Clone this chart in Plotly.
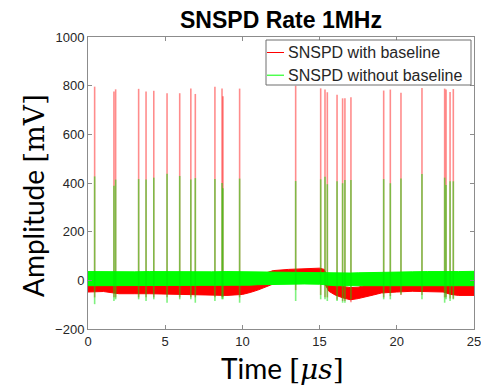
import plotly.graph_objects as go

# ---------------- data ----------------
pulse_t = [0.43, 1.68, 1.79, 3.28, 3.76, 4.26, 5.12, 5.94, 6.66, 6.95, 8.22, 8.68, 8.74, 9.82,
           13.45, 15.07, 15.35, 15.50, 16.13, 16.49, 16.64, 17.03, 19.15, 19.58, 20.27, 21.63,
           23.10, 23.19, 23.45, 23.66]
red_peak = [796, 776, 785, 787, 776, 779, 769, 769, 788, 766, 796, 788, 757, 788,
            800, 789, 784, 773, 763, 748, 748, 752, 780, 784, 771, 790, 788, 784, 774, 786]
red_dip = [-70, -70, -70, -70, -70, -70, -70, -70, -70, -70, -70, -70, -70, -70,
           -40, -60, -70, -70, -80, -85, -85, -90, -70, -65, -60, -60, -70, -70, -75, -75]
green_peak = [427, 389, 414, 416, 414, 422, 438, 429, 414, 420, 416, 400, 378, 418,
              408, 415, 426, 395, 407, 399, 412, 412, 416, 399, 419, 437, 422, 392, 407, 407]
green_dip = [-98, -85, -78, -78, -85, -78, -92, -78, -78, -92, -85, -78, -78, -92,
             -85, -78, -78, -85, -85, -92, -92, -78, -78, -78, -58, -78, -92, -78, -85, -78]

env_t = [0, 1, 2, 3, 4, 5, 6, 7, 8, 9, 10, 10.5, 11, 11.5, 12, 13, 14, 15, 15.3, 15.6,
         16, 16.5, 17, 17.5, 18, 18.5, 19, 20, 21, 22, 23, 23.5, 24, 25]
red_low = [-48, -46, -55, -55, -55, -57, -58, -60, -60, -62, -58, -50, -40, -28, -15, -8, -5, -5, -10, -45,
           -60, -72, -80, -75, -68, -60, -52, -48, -45, -45, -48, -58, -62, -62]
red_up = [-5, -5, -10, -10, -10, -12, -12, -15, -15, -15, -12, -5, 10, 30, 40, 45, 48, 50, 45, 0,
          -15, -25, -30, -28, -20, -12, -8, -5, -5, -5, -5, -12, -15, -15]
green_up = [36, 35, 36, 35, 36, 35, 35, 36, 35, 36, 35, 35, 35, 33, 33, 33, 32, 32, 32, 30,
            30, 30, 30, 31, 32, 33, 34, 35, 35, 36, 35, 36, 36, 37]
green_low = [-22, -22, -22, -22, -22, -22, -22, -22, -22, -22, -20, -20, -18, -16, -15, -15, -15, -16, -18, -20,
             -22, -25, -25, -24, -22, -22, -22, -22, -22, -22, -22, -22, -22, -22]

x_ticks = [0, 5, 10, 15, 20, 25]
y_ticks = [-200, 0, 200, 400, 600, 800, 1000]

series_names = ["SNSPD with baseline", "SNSPD without baseline"]
title_text = "SNSPD Rate 1MHz"

# ---------------- helpers ----------------
def band(t, lo, hi):
    return list(t) + list(t)[::-1], list(hi) + list(lo)[::-1]

def spikes(t, lo, hi):
    xs, ys = [], []
    for ti, a, b in zip(t, lo, hi):
        xs += [ti, ti, None]
        ys += [a, b, None]
    return xs, ys

RED = "#ff0000"
GREEN = "#00ff00"

fig = go.Figure()

bx, by = band(env_t, red_low, red_up)
fig.add_trace(go.Scatter(x=bx, y=by, mode="lines", fill="toself", fillcolor=RED,
                         line=dict(color=RED, width=1), hoverinfo="skip",
                         name=series_names[0], showlegend=False))
sx, sy = spikes(pulse_t, red_dip, red_peak)
fig.add_trace(go.Scatter(x=sx, y=sy, mode="lines", line=dict(color="rgba(255,0,0,0.45)", width=1.6),
                         name=series_names[0], showlegend=False))

bx, by = band(env_t, green_low, green_up)
fig.add_trace(go.Scatter(x=bx, y=by, mode="lines", fill="toself", fillcolor=GREEN,
                         line=dict(color=GREEN, width=1), hoverinfo="skip",
                         name=series_names[1], showlegend=False))
sx, sy = spikes(pulse_t, green_dip, green_peak)
fig.add_trace(go.Scatter(x=sx, y=sy, mode="lines", line=dict(color="rgba(0,230,0,0.5)", width=1.6),
                         name=series_names[1], showlegend=False))

W, H = 481, 387
L, R, T, B = 88, 474, 37, 329
pw, ph = R - L, B - T

def px(xp):
    return (xp - L) / pw

def py(yp):
    return (B - yp) / ph

axis_col = "#8c8c8c"
txt_col = "#262626"

fig.update_layout(
    width=W, height=H,
    margin=dict(l=L, r=W - R, t=T, b=H - B, autoexpand=False),
    paper_bgcolor="white", plot_bgcolor="white",
    showlegend=False,
    title=dict(text="<b>" + title_text + "</b>", x=0.5, xref="paper", xanchor="center",
               y=1 - 20 / H, yref="container", yanchor="middle",
               font=dict(family="Liberation Sans", size=23, color="black")),
    xaxis=dict(range=[0, 25], tickvals=x_ticks, ticks="inside", ticklen=4, tickcolor=axis_col,
               showline=True, linecolor=axis_col, linewidth=1, mirror="ticks", showgrid=False,
               zeroline=False, ticklabeloverflow="allow", automargin=False,
               tickfont=dict(family="Liberation Sans", size=13, color=txt_col)),
    yaxis=dict(range=[-200, 1000], tickvals=y_ticks, ticks="inside", ticklen=4, tickcolor=axis_col,
               showline=True, linecolor=axis_col, linewidth=1, mirror="ticks", showgrid=False,
               zeroline=False, ticklabeloverflow="allow", automargin=False,
               tickfont=dict(family="Liberation Sans", size=13, color=txt_col)),
)

# axis labels
fig.add_annotation(text="Amplitude <span style='font-family:DejaVu Serif'>[mV]</span>",
                   xref="paper", yref="paper", x=px(33), y=py(196), xanchor="center", yanchor="middle",
                   textangle=-90, showarrow=False, font=dict(family="Lato", size=28, color="black"))
fig.add_annotation(text="Time <span style='font-family:DejaVu Serif'>[<i>μs</i>]</span>",
                   xref="paper", yref="paper", x=px(282), y=py(368), xanchor="center", yanchor="middle",
                   showarrow=False, font=dict(family="Lato", size=28, color="black"))

# legend box
fig.add_shape(type="rect", xref="paper", yref="paper", x0=px(266), x1=px(471), y0=py(85), y1=py(40),
              line=dict(color="#6e6e6e", width=1), fillcolor="white", layer="above")
for i, (nm, col) in enumerate(zip(series_names, [RED, GREEN])):
    yy = 52.5 + i * 22.7
    fig.add_shape(type="line", xref="paper", yref="paper", x0=px(267), x1=px(284), y0=py(yy), y1=py(yy),
                  line=dict(color=col, width=1), layer="above")
    fig.add_annotation(text=nm, xref="paper", yref="paper", x=px(286), y=py(yy), xanchor="left",
                       yanchor="middle", showarrow=False,
                       font=dict(family="Liberation Sans", size=16, color=txt_col))

fig.write_html("out.html")
